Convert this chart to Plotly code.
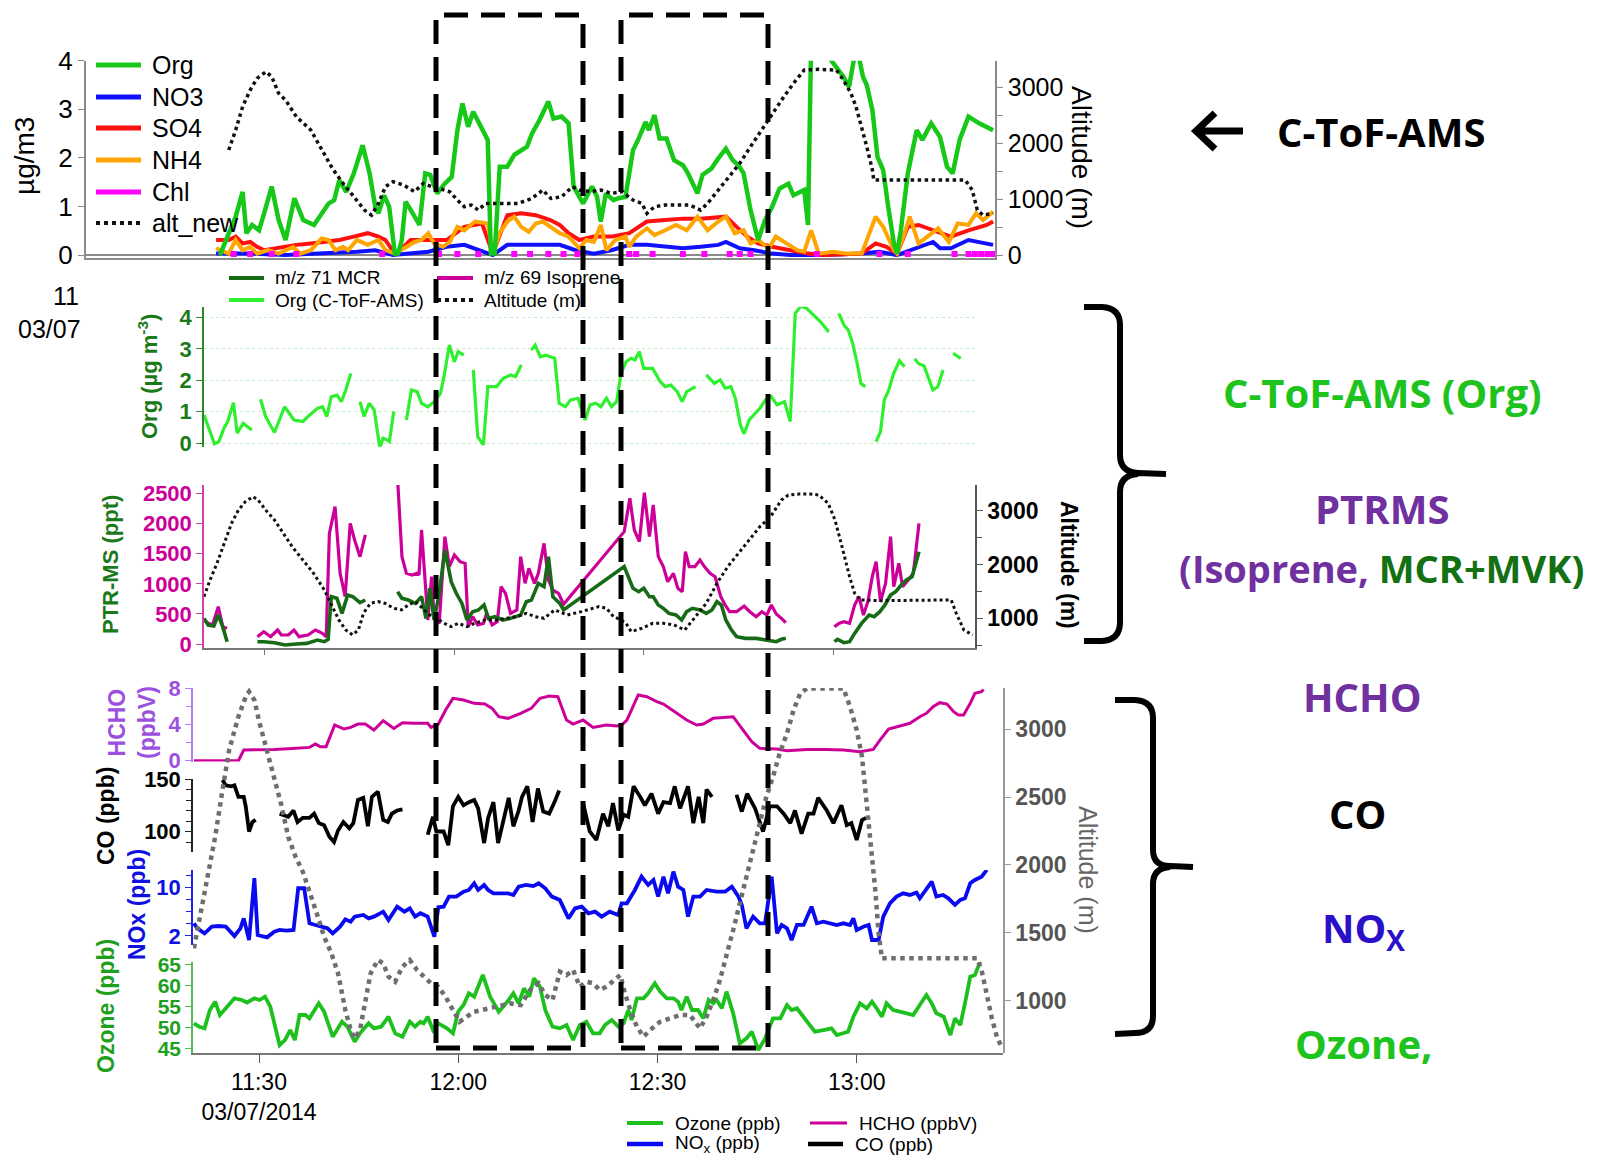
import plotly.graph_objects as go

W, H = 1604, 1155
OFF = 8  # page offset of the rendered figure (body margin)
def fx(p): return (p - OFF) / W
def fy(p): return 1 - (p - OFF) / H
FONT = "Liberation Sans, Arial, sans-serif"

# ---------------- DATA (minutes after 11:00, value) ----------------
# Top panel: C-ToF-AMS (ug/m3) + altitude (m)
ORG_TOP = [(20.8,0.0),(22.2,0.45),(23.3,0.79),(24.4,1.30),(25.0,0.45),(25.9,0.62),(27.0,0.51),(27.8,0.86),(29.0,1.41),(30.1,0.72),(31.2,0.31),(32.6,1.17),(34.0,0.72),(35.7,0.62),(36.9,0.86),(38.0,1.06),(38.9,1.13),(39.7,1.54),(40.8,1.30),(42.0,1.68),(43.4,2.26),(44.5,1.68),(45.4,0.99),(45.9,0.86),(46.8,1.23),(47.6,0.99),(48.5,0.03),(49.0,0.03),(49.6,0.31),(50.2,1.10),(51.0,0.93),(52.4,0.62),(53.3,1.68),(54.1,1.65),(55.2,1.27),(56.4,1.47),(57.5,1.61),(58.4,2.57),(59.2,3.12),(60.1,2.64),(60.9,2.95),(62.0,2.67),(63.2,2.37),(63.7,0.03),(64.3,0.03),(65.1,1.82),(66.3,1.82),(67.4,2.06),(68.5,2.16),(69.4,2.23),(70.2,2.50),(71.4,2.78),(72.8,3.16),(73.6,2.81),(74.9,2.85),(76.0,2.71),(76.8,1.41),(78.3,1.06),(79.7,1.41),(80.5,1.20),(81.1,0.69),(81.9,1.27),(83.1,1.13),(83.9,1.17),(85.0,1.20),(86.2,2.16),(87.0,2.37),(88.2,2.74),(88.7,2.57),(89.6,2.88),(90.4,2.40),(91.5,2.40),(92.7,1.95),(94.1,1.85),(94.9,1.68),(96.4,1.27),(97.2,1.65),(98.6,1.78),(99.7,1.99),(100.9,2.19),(102.0,1.95),(102.9,1.85),(103.7,1.68),(104.8,0.93),(106.0,0.31),(107.1,0.72),(108.2,0.99),(109.4,1.37),(110.8,1.47),(111.6,1.23),(113.3,1.34),(113.9,0.62),(114.4,4.4),(116.0,4.6),(117.6,4.0),(119.5,3.67),(120.4,3.46),(121.2,4.05),(122.0,4.05),(122.6,3.67),(123.2,3.50),(124.1,2.98),(124.9,2.02),(125.8,1.75),(126.6,0.99),(127.5,0.24),(128.0,0.03),(128.6,0.51),(129.7,1.68),(131.1,2.57),(132.0,2.37),(133.4,2.71),(134.8,2.43),(135.9,1.82),(136.8,1.68),(137.9,2.37),(139.3,2.85),(141.0,2.71),(143.2,2.57)]
NO3_TOP = [(20.2,0.03),(25.6,0.03),(31.2,0.0),(36.9,0.03),(42.5,0.07),(45.4,0.10),(48.2,0.0),(53.8,0.07),(56.7,0.17),(59.5,0.21),(64.0,0.0),(66.3,0.21),(70.8,0.21),(74.6,0.21),(77.1,0.10),(80.0,0.03),(82.8,0.10),(85.6,0.21),(88.4,0.21),(91.3,0.17),(94.1,0.14),(96.9,0.17),(99.7,0.21),(100.9,0.27),(103.1,0.14),(105.4,0.10),(108.2,0.03),(111.1,0.0),(116.7,0.0),(122.4,0.03),(125.2,0.07),(128.0,0.0),(130.8,0.14),(133.7,0.27),(134.8,0.14),(136.5,0.14),(139.3,0.31),(143.2,0.21)]
SO4_TOP = [(20.2,0.31),(22.2,0.31),(23.3,0.38),(24.4,0.24),(25.6,0.27),(26.7,0.17),(27.8,0.10),(29.5,0.14),(31.2,0.17),(32.9,0.21),(35.2,0.24),(36.9,0.27),(39.7,0.31),(42.0,0.38),(44.2,0.45),(45.9,0.38),(47.0,0.31),(48.5,0.03),(49.3,0.10),(51.0,0.31),(53.8,0.31),(56.7,0.31),(59.5,0.58),(62.3,0.65),(64.0,0.03),(66.3,0.82),(68.5,0.86),(70.8,0.82),(73.1,0.72),(74.6,0.62),(76.0,0.45),(77.7,0.31),(80.0,0.38),(82.8,0.38),(85.6,0.45),(88.4,0.69),(91.3,0.72),(94.1,0.75),(96.9,0.75),(100.9,0.79),(102.6,0.58),(104.3,0.38),(106.0,0.24),(108.2,0.17),(111.1,0.10),(113.9,0.03),(116.7,0.0),(122.4,0.03),(124.6,0.24),(126.3,0.17),(128.0,0.03),(129.7,0.58),(131.4,0.62),(133.7,0.51),(136.5,0.38),(139.3,0.51),(142.2,0.62),(143.2,0.69)]
NH4_TOP = [(20.2,0.14),(22.2,0.03),(23.3,0.31),(24.4,0.10),(25.6,0.17),(26.7,0.03),(28.4,0.10),(30.1,0.03),(32.4,0.17),(33.5,0.03),(35.2,0.10),(36.9,0.34),(38.0,0.31),(39.1,0.10),(40.3,0.17),(41.1,0.10),(42.5,0.31),(44.2,0.21),(45.9,0.31),(47.0,0.10),(48.5,0.03),(50.4,0.17),(51.6,0.27),(52.7,0.31),(53.8,0.45),(54.7,0.24),(56.1,0.17),(57.2,0.27),(58.4,0.58),(59.5,0.51),(61.2,0.69),(63.2,0.65),(64.0,0.03),(65.1,0.45),(66.3,0.69),(67.4,0.79),(68.5,0.58),(69.7,0.48),(70.8,0.65),(71.9,0.69),(73.1,0.58),(74.6,0.45),(76.0,0.38),(77.7,0.14),(78.8,0.31),(80.0,0.27),(81.1,0.62),(82.0,0.10),(83.4,0.31),(85.0,0.38),(85.6,0.17),(86.7,0.38),(88.4,0.55),(89.6,0.41),(91.3,0.51),(93.0,0.62),(94.7,0.51),(96.4,0.79),(98.0,0.51),(99.7,0.69),(100.9,0.79),(102.3,0.45),(103.7,0.51),(104.8,0.24),(106.0,0.31),(107.7,0.14),(108.8,0.38),(110.5,0.24),(112.2,0.10),(113.3,0.07),(114.4,0.51),(115.6,0.03),(117.8,0.07),(120.1,0.03),(122.4,0.03),(124.6,0.79),(125.8,0.58),(127.5,0.10),(128.0,0.03),(129.2,0.45),(130.0,0.79),(131.4,0.24),(133.1,0.41),(134.5,0.55),(136.2,0.27),(137.6,0.65),(139.3,0.62),(140.5,0.86),(141.6,0.72),(143.2,0.89)]
CHL_TOP = [(23.0,0.02),(25.6,0.02),(29.0,0.02),(32.9,0.02),(46.5,0.02),(55.5,0.02),(58.4,0.02),(61.7,0.02),(67.4,0.02),(69.9,0.02),(72.8,0.02),(75.2,0.02),(77.4,0.02),(85.6,0.02),(86.7,0.02),(89.3,0.02),(94.1,0.02),(97.5,0.02),(101.5,0.02),(103.1,0.02),(104.8,0.02),(115.3,0.02),(125.2,0.02),(129.7,0.02),(137.1,0.02),(139.3,0.02),(140.3,0.02),(141.3,0.02),(142.3,0.02),(143.2,0.02)]
ALT_TOP = [(22.2,1883),(23.3,2241),(24.4,2660),(25.6,2959),(26.7,3168),(28.1,3287),(29.0,3198),(30.1,2899),(31.2,2779),(32.9,2480),(35.2,2241),(36.9,1883),(38.6,1554),(40.3,1285),(42.0,1046),(43.7,807),(44.8,717),(45.9,926),(47.0,1225),(48.2,1315),(49.9,1255),(51.6,1136),(53.0,1285),(54.4,1225),(55.5,1195),(57.2,1136),(58.4,986),(59.5,867),(60.6,897),(61.7,807),(62.9,926),(65.1,926),(68.0,926),(70.2,1016),(71.9,1166),(73.2,1016),(74.9,1046),(76.6,1225),(77.7,1166),(79.4,1136),(81.1,1166),(82.8,1106),(84.5,1136),(86.2,986),(87.6,926),(88.4,747),(89.6,867),(91.3,897),(93.0,897),(95.2,897),(96.9,807),(98.0,926),(99.7,1166),(101.4,1405),(103.1,1644),(104.8,1943),(106.5,2241),(108.2,2540),(109.9,2809),(111.6,3078),(113.3,3317),(115.6,3329),(118.4,3317),(119.5,3138),(120.7,2899),(121.5,2660),(122.4,2301),(123.2,1943),(124.1,1524),(124.3,1345),(125.8,1345),(133.7,1345),(138.8,1345),(139.9,1166),(140.7,807),(141.6,717),(143.2,747)]

# Middle panel: Org (ug m-3), PTR-MS (ppt), altitude (m); None = data gap
ORG_MID = [(20.33,0.90),(21.0,0.53),(22.0,-0.02),(22.7,0.05),(23.5,0.48),(24.1,0.69),(25.0,1.29),(25.6,0.32),(26.55,0.63),(27.2,0.53),(27.9,0.42),None,
 (29.3,1.40),(30.1,0.85),(31.5,0.34),(33.1,1.16),(34.6,0.74),(36.0,0.69),(37.1,0.90),(38.3,1.11),(39.1,1.16),(39.8,0.85),(40.5,1.48),(41.4,1.53),(42.1,1.32),(42.8,1.69),(43.6,2.22),None,
 (45.05,1.32),(45.7,0.85),(46.5,1.27),(47.3,1.06),(48.2,-0.16),(48.7,0.16),(49.3,0.11),(49.7,0.05),(50.4,1.01),None,
 (52.4,0.74),(53.2,1.69),(54.1,1.64),(54.8,1.27),(55.8,1.16),(56.8,1.32),(57.8,1.59),(58.4,2.17),(59.2,3.12),(60.0,2.59),(60.6,2.91),(61.5,2.80),None,
 (63.0,2.33),(63.7,0.21),(64.6,-0.05),(65.3,1.80),(66.7,1.80),(67.7,2.06),(68.9,2.17),(69.7,2.12),(70.6,2.49),None,
 (72.2,2.96),(72.8,3.12),(73.6,2.75),(74.5,2.80),(75.9,2.70),(76.6,1.27),(77.6,1.16),(78.4,1.38),(79.6,1.43),(80.7,0.74),(81.5,1.22),(82.4,1.27),(83.2,1.16),(84.1,1.43),(84.9,1.16),(85.7,1.32),(86.4,2.22),(87.2,2.59),(88.0,2.70),(88.6,2.65),(89.3,2.91),(90.0,2.38),(91.4,2.38),(92.6,1.96),(93.4,1.80),(94.3,1.85),(95.3,1.64),(96.1,1.32),(96.8,1.64),(98.2,1.80),None,
 (99.9,2.17),(101.2,1.90),(102.1,2.01),(102.9,1.75),(103.8,1.80),(104.5,1.43),(105.3,0.58),(105.9,0.30),(106.7,0.74),(107.6,0.95),(108.4,1.11),(109.3,1.38),(110.2,1.48),(111.1,1.22),(112.3,1.32),(113.2,0.69),(114.0,4.13),(114.9,4.36),(115.8,4.29),(116.9,4.07),(118.0,3.86),(119.3,3.54),None,
 (120.9,4.13),(121.7,3.76),(122.4,3.60),(123.1,3.17),(123.8,2.54),(124.4,1.90),(125.1,1.80),None,
 (126.8,0.05),(127.5,0.37),(128.1,1.38),(128.8,1.69),(129.6,2.22),(130.5,2.62),(131.3,2.43),None,
 (132.9,2.68),(133.6,2.52),(134.4,2.46),(135.0,2.12),(135.8,1.69),(136.6,1.80),(137.4,2.33),None,
 (139.0,2.86),(140.2,2.70)]
ISO_MID = [(20.33,399),(21.0,343),(21.7,316),(22.6,620),(23.3,288),(24.0,260),None,
 (28.8,122),(29.8,205),(30.9,122),(32.0,233),(32.6,150),(33.7,150),(34.6,233),(35.4,122),(36.8,150),(38.0,233),(39.1,177),(39.7,122),(40.2,1838),(41.1,2281),(41.9,1174),(42.7,786),(43.5,2004),(44.2,1728),(45.05,1451),(45.9,1811),None,
 (51.0,2750),(51.7,1451),(52.4,1174),(53.3,1146),(54.1,1174),(54.4,1146),(54.8,1894),(55.4,1063),(55.8,399),(56.4,1118),(56.8,426),(57.6,343),(58.5,1783),(59.2,1285),(60.0,1478),(60.9,1368),(61.7,1340),(62.2,288),(62.9,454),(63.7,316),(64.6,343),(65.1,509),(66.0,316),(66.8,371),(67.4,952),(68.1,842),(68.9,509),(69.9,565),(70.5,1451),(71.2,1008),(71.8,1257),(72.7,1008),(73.3,1174),(74.2,1672),(74.9,1063),(75.6,897),(76.5,842),(77.3,660),(86.9,1866),(87.8,2420),(88.5,1894),(89.3,1700),(90.1,2514),(90.9,1783),(91.5,2309),(92.3,1451),(93.1,1285),(93.8,1035),(94.7,1174),(95.4,925),(96.1,869),(96.6,1534),(97.2,1285),(98.1,1285),(98.9,1396),(99.6,1285),(100.5,1174),(101.3,1118),(102.2,786),(102.9,648),(103.6,537),(104.7,537),(105.9,631),(106.8,537),(107.8,454),(108.7,537),(109.5,482),(110.2,648),(111.0,498),(111.8,426),(112.5,354),None,
 (120.2,288),(120.9,343),(121.7,371),(122.6,343),(123.4,648),(124.1,786),(124.8,482),(125.5,703),(126.2,1118),(126.8,1368),(127.5,703),(128.3,1008),(129.1,1783),(129.6,952),(130.4,1340),(131.0,952),(131.9,1063),(132.7,1174),(133.6,2004)]
MCR_MID = [(20.33,426),(21.0,316),(21.9,299),(22.6,482),(23.3,288),(24.0,39),None,
 (28.8,39),(29.8,39),(31.5,22),(33.2,-17),(34.9,0),(36.6,11),(38.3,66),(39.4,39),(40.0,78),(40.5,786),(41.4,759),(42.2,509),(43.1,814),(43.9,786),(45.05,687),(45.9,731),None,
 (51.0,869),(51.7,759),(52.7,731),(53.8,675),(54.8,786),(55.5,426),(56.1,925),(56.8,399),(57.6,842),(58.5,1561),(59.5,1035),(60.3,842),(61.2,675),(62.0,399),(62.9,537),(63.8,565),(64.7,648),(65.4,426),(66.4,454),(67.7,399),(68.9,426),(70.5,482),(71.4,703),(72.2,731),(73.3,1008),(74.2,952),(74.9,1451),(75.6,786),(76.7,675),(77.3,565),(86.9,1285),(87.5,1146),(88.3,925),(89.2,869),(90.0,925),(90.9,786),(91.5,786),(92.3,648),(93.1,593),(94.0,509),(95.1,482),(96.0,399),(96.8,537),(97.7,593),(98.9,565),(99.9,509),(100.8,565),(101.6,703),(102.3,648),(103.0,399),(103.9,232),(104.7,122),(106.1,94),(107.8,94),(109.5,66),(111.0,39),(111.8,78),(112.5,94),None,
 (120.2,39),(120.7,78),(121.7,22),(122.6,39),(123.4,177),(124.5,343),(125.7,482),(126.5,454),(127.4,537),(128.2,648),(129.1,814),(129.9,869),(130.8,980),(131.6,1063),(132.5,1118),(133.6,1534)]
ALT_MID = [(20.33,1403),(21.3,1712),(22.4,2022),(23.5,2394),(24.7,2766),(25.8,3014),(26.9,3169),(28.1,3262),(28.9,3200),(30.1,3014),(31.5,2828),(32.9,2580),(34.3,2332),(36.0,2084),(37.7,1836),(39.4,1527),(40.5,1248),(41.7,969),(42.8,783),(43.9,690),(44.8,783),(45.6,1093),(46.7,1279),(47.9,1310),(49.0,1279),(50.4,1186),(51.6,1155),(52.7,1248),(53.8,1310),(54.9,1186),(56.1,1062),(57.2,1000),(58.4,907),(59.5,845),(60.6,907),(62.0,845),(63.2,907),(64.9,969),(66.6,969),(68.3,1000),(69.9,1031),(71.4,1093),(72.8,1031),(74.2,1000),(75.9,1155),(77.9,1062),(80.1,1124),(82.9,1217),(84.1,1186),(85.2,1031),(86.4,969),(87.2,907),(88.0,752),(89.7,814),(91.4,907),(93.1,907),(94.8,876),(96.5,783),(98.2,1031),(99.9,1279),(101.6,1651),(103.3,1960),(105.0,2208),(106.7,2456),(108.4,2704),(110.1,2890),(111.8,3200),(112.9,3293),(114.6,3311),(116.3,3311),(117.7,3293),(119.2,3138),(120.3,2828),(121.4,2332),(122.6,1775),(123.4,1465),(124.3,1341),(127.6,1328),(133.3,1328),(138.7,1341),(139.5,1093),(140.7,783),(142.1,690)]

# Bottom panel: HCHO (ppbV), CO (ppb), NOx (ppb), Ozone (ppb), altitude (m)
HCHO = [(20.2,0.0),(26.9,0.0),(27.7,1.18),(30.1,1.18),(32.3,1.25),(35.0,1.36),(37.6,1.47),(38.5,1.84),(39.2,1.55),(40.1,1.55),(41.4,3.94),(42.8,3.50),(43.8,3.68),(44.9,4.05),(46.0,4.05),(47.3,3.39),(48.7,4.42),(50.3,3.57),(51.6,4.20),(53.2,4.13),(55.4,4.13),(55.9,3.68),(57.0,4.05),(58.1,5.60),(59.2,6.89),(60.8,6.70),(62.4,6.34),(64.0,6.26),(65.1,5.78),(66.1,4.86),(67.5,4.68),(69.4,5.23),(71.0,5.78),(72.3,6.89),(73.7,7.15),(75.0,7.07),(76.3,4.49),(77.3,4.05),(78.8,4.49),(80.3,3.68),(82.3,3.94),(83.9,3.83),(84.6,3.94),(85.4,4.49),(87.1,7.26),(88.4,7.07),(89.9,6.52),(90.9,6.26),(92.9,5.23),(94.4,4.49),(95.9,3.94),(96.9,4.05),(98.4,4.68),(99.9,4.79),(101.4,4.86),(102.7,3.57),(104.2,2.10),(105.4,1.36),(108.0,1.29),(109.5,1.10),(111.0,1.18),(112.5,1.25),(115.5,1.25),(118.0,1.18),(120.5,1.00),(122.5,1.25),(123.5,2.28),(124.8,3.50),(126.5,3.83),(128.0,4.13),(129.5,4.86),(130.5,5.23),(131.5,5.97),(132.5,6.41),(133.6,6.26),(134.6,5.41),(135.3,5.05),(136.1,5.05),(137.1,6.34),(137.8,7.44),(138.8,7.62),(139.1,7.88)]
CO = [(24.5,149),(25.0,144),(25.8,143),(26.3,144),(26.9,133),(27.7,133),(28.0,124),(28.5,100),(29.0,109),(29.5,111),None,
 (33.1,117),(34.4,114),(35.2,120),(35.8,109),(36.6,113),(37.6,113),(38.3,117),(39.0,108),(39.8,106),(40.6,95),(41.3,90),(41.9,101),(42.7,109),(43.6,103),(44.2,108),(44.9,130),(45.7,132),(46.4,105),(47.0,133),(47.9,138),(48.7,111),(49.4,109),(50.0,117),(50.8,120),(51.6,121),None,
 (55.4,97),(56.2,114),(56.7,100),(57.8,100),(58.5,87),(59.2,124),(60.0,133),(60.8,125),(61.6,128),(62.4,130),(63.0,122),(63.9,89),(64.5,113),(65.3,128),(66.0,89),(67.0,117),(67.6,132),(68.3,105),(69.1,120),(69.6,133),(70.4,143),(71.2,109),(72.0,141),(72.8,119),(73.7,117),(74.5,128),(75.2,139),None,
 (78.8,127),(79.8,100),(80.8,92),(81.8,117),(82.6,105),(83.3,127),(84.1,101),(84.9,116),(85.6,114),(86.4,143),(87.4,133),(88.1,125),(89.1,136),(90.1,117),(90.9,128),(91.9,127),(92.6,143),(93.4,122),(94.6,143),(95.4,108),(96.2,133),(96.9,108),(97.4,140),(98.2,133),None,
 (101.9,135),(102.7,119),(103.5,136),(104.7,122),(105.9,100),(106.9,124),(108.0,124),(109.0,117),(110.0,108),(110.7,120),(111.7,98),(112.7,117),(113.5,117),(114.2,132),(115.5,120),(116.5,108),(117.7,125),(118.5,106),(119.2,108),(120.0,92),(120.8,111),(121.4,113)]
NOX = [(20.2,4.08),(20.7,3.26),(21.8,2.44),(22.9,3.53),(23.9,3.64),(25.0,3.53),(26.3,2.0),(27.2,3.26),(27.7,4.9),(28.5,1.34),(29.3,11.5),(29.8,2.16),(31.2,1.78),(32.3,2.71),(33.1,2.99),(34.1,2.88),(35.2,2.99),(35.9,9.84),(36.8,9.84),(37.6,4.08),(38.5,3.81),(39.5,3.53),(40.3,3.26),(41.1,2.44),(42.2,3.53),(43.0,4.74),(43.8,4.36),(44.4,5.18),(45.7,5.45),(46.5,4.9),(47.3,5.18),(48.7,6.0),(49.5,4.63),(50.8,6.82),(51.9,6.0),(52.7,6.55),(53.5,5.18),(54.3,5.73),(55.4,5.18),(56.4,1.89),(57.0,6.71),(57.8,6.82),(58.6,8.47),(59.7,8.47),(60.8,9.29),(61.6,9.56),(62.4,10.66),(63.0,9.56),(63.9,10.38),(64.5,9.56),(65.3,9.01),(66.4,9.01),(67.5,9.01),(68.3,8.74),(69.1,10.1),(70.2,10.38),(71.3,10.2),(72.1,10.66),(73.1,9.84),(74.1,8.47),(75.3,7.9),(76.6,4.9),(77.6,6.55),(78.6,6.82),(79.6,5.73),(80.6,6.0),(81.6,5.18),(82.8,6.0),(84.1,5.45),(84.6,7.37),(85.4,7.37),(86.6,9.56),(87.6,11.75),(88.6,10.38),(89.4,11.2),(90.1,8.47),(90.9,11.75),(91.6,9.01),(92.4,12.57),(93.1,10.1),(93.9,9.56),(94.6,5.18),(95.4,8.47),(96.4,8.47),(97.4,9.56),(98.9,9.29),(100.2,9.29),(101.2,10.1),(102.2,8.47),(102.7,7.1),(103.4,3.26),(104.4,5.18),(105.4,4.08),(106.2,4.08),(107.2,11.75),(108.0,2.44),(108.7,3.81),(109.5,3.26),(110.2,1.34),(111.0,3.81),(112.0,3.81),(113.2,6.82),(114.0,4.08),(115.0,4.36),(116.0,4.08),(117.0,3.81),(118.0,4.08),(119.0,3.81),(119.5,4.9),(120.0,2.99),(121.0,3.53),(121.8,3.81),(122.3,1.34),(123.3,1.34),(124.0,5.18),(125.0,7.37),(126.0,8.47),(127.0,9.01),(128.0,8.74),(129.0,9.12),(129.5,8.19),(130.5,9.84),(131.3,10.93),(132.0,8.47),(133.0,8.74),(133.8,8.19),(134.8,7.1),(135.6,7.92),(136.3,8.19),(137.1,10.66),(137.8,11.2),(138.8,11.75),(139.6,12.85)]
OZONE = [(20.2,51.0),(21.0,50.2),(21.8,49.8),(22.6,54.2),(23.4,56.2),(24.1,53.0),(25.0,54.6),(26.3,57.0),(27.4,56.6),(28.2,56.0),(29.3,57.0),(30.1,56.6),(30.9,57.4),(31.7,55.0),(33.1,45.8),(33.9,47.0),(34.7,49.4),(35.4,47.0),(36.1,53.0),(37.0,53.0),(37.6,52.2),(39.0,55.8),(39.8,53.8),(41.1,47.8),(42.5,51.4),(43.3,50.2),(44.4,46.6),(45.2,48.6),(46.5,51.0),(47.3,49.8),(48.4,50.2),(49.5,52.6),(50.5,48.6),(51.6,47.8),(52.7,51.4),(53.5,50.2),(54.3,51.4),(54.8,51.0),(55.4,52.6),(56.2,49.4),(57.0,51.0),(58.3,49.8),(59.2,48.6),(60.0,53.8),(60.8,55.4),(61.6,58.2),(62.4,57.4),(63.7,62.6),(64.8,57.4),(66.1,53.8),(67.2,55.8),(68.3,58.2),(69.1,55.8),(69.9,59.4),(70.7,57.4),(71.4,61.8),(72.3,59.8),(73.1,54.2),(74.2,50.2),(75.3,49.8),(76.3,50.6),(77.3,47.0),(78.3,50.6),(79.3,51.4),(80.3,48.6),(81.3,48.6),(82.1,50.6),(83.1,51.8),(84.1,50.2),(84.9,51.0),(85.6,54.2),(86.1,51.8),(86.9,57.0),(87.9,57.0),(88.6,58.2),(89.6,60.6),(90.4,58.6),(91.4,57.0),(92.4,57.0),(93.1,56.2),(93.6,54.2),(94.4,57.4),(95.2,54.2),(96.1,54.2),(96.9,52.2),(97.7,56.6),(98.4,55.8),(98.9,56.6),(99.7,54.6),(100.4,58.6),(101.4,53.4),(102.4,46.2),(103.4,47.4),(104.2,49.0),(105.2,44.6),(106.2,47.4),(107.4,52.2),(108.5,52.2),(109.5,55.4),(110.2,54.2),(111.0,54.6),(112.2,52.2),(113.7,49.0),(115.0,49.4),(116.2,49.8),(117.0,48.2),(118.0,48.6),(118.7,49.0),(119.5,52.6),(120.5,55.8),(121.5,54.6),(122.3,56.2),(123.0,54.6),(123.8,52.6),(124.5,55.8),(125.5,54.2),(126.5,53.8),(127.5,53.4),(128.5,53.0),(129.5,55.4),(130.5,57.8),(131.3,55.8),(132.0,53.4),(133.1,52.6),(134.1,48.2),(134.8,52.2),(135.6,50.6),(136.3,55.8),(137.1,62.2),(137.8,62.6),(138.6,65.8)]
ALT_BOT = [(20.2,1386),(21.2,1643),(22.3,1914),(23.4,2208),(24.5,2552),(25.5,2847),(26.9,3093),(28.0,3240),(28.5,3277),(29.3,3215),(30.1,3043),(31.2,2847),(32.3,2650),(33.3,2454),(34.4,2208),(35.5,2061),(36.6,1950),(37.6,1791),(38.7,1643),(39.8,1472),(40.9,1349),(41.9,1201),(43.0,931),(43.8,784),(44.4,722),(45.2,784),(46.0,980),(46.8,1201),(47.9,1300),(48.7,1275),(49.5,1177),(50.5,1140),(51.6,1251),(52.7,1300),(53.8,1226),(54.8,1177),(55.9,1128),(57.0,1103),(58.1,1029),(59.2,931),(60.2,845),(61.3,882),(62.4,919),(63.5,931),(64.5,943),(65.6,956),(66.7,968),(67.8,980),(69.4,968),(71.0,1091),(72.1,1128),(73.1,1042),(74.2,1005),(75.3,1214),(76.3,1189),(77.3,1226),(78.3,1103),(79.3,1140),(80.3,1128),(81.3,1079),(82.3,1103),(83.3,1140),(84.4,1189),(85.1,1054),(85.9,931),(86.9,808),(87.9,735),(88.9,784),(90.4,845),(91.9,870),(93.4,894),(94.9,894),(96.4,796),(97.4,882),(98.4,1005),(99.4,1152),(100.4,1324),(101.4,1521),(102.4,1717),(103.4,1914),(104.4,2135),(105.4,2307),(106.4,2503),(107.4,2650),(108.4,2822),(109.5,2970),(110.5,3142),(111.5,3264),(112.5,3301),(114.5,3301),(116.5,3301),(118.0,3301),(119.0,3166),(120.0,2994),(120.8,2798),(121.5,2454),(122.3,2110),(122.8,1815),(123.3,1496),(123.8,1312),(124.5,1312),(130.5,1312),(138.1,1312),(138.8,1226),(139.6,1029),(140.3,882),(141.1,735),(141.8,661)]

TIME_TICKS = [30, 60, 90, 120]
TIME_LABELS = ["11:30<br>03/07/2014", "12:00", "12:30", "13:00"]

# ---------------- FIGURE ----------------
fig = go.Figure()

def split(series):
    xs, ys = [], []
    for p in series:
        if p is None:
            xs.append(None); ys.append(None)
        else:
            xs.append(p[0]); ys.append(p[1])
    return xs, ys

def add_line(series, xa, ya, color, width, dash="solid"):
    x, y = split(series)
    fig.add_trace(go.Scatter(x=x, y=y, xaxis=xa, yaxis=ya, mode="lines",
                             line=dict(color=color, width=width, dash=dash),
                             connectgaps=False, showlegend=False, hoverinfo="skip"))

# top panel
add_line(NO3_TOP, "x", "y", "#1010ff", 4)
add_line(SO4_TOP, "x", "y", "#ff1010", 4)
add_line(NH4_TOP, "x", "y", "#ffa500", 4)
cx, cy = split(CHL_TOP)
fig.add_trace(go.Scatter(x=cx, y=cy, xaxis="x", yaxis="y", mode="markers",
                         marker=dict(symbol="square", size=6, color="#ff00ff"),
                         showlegend=False, hoverinfo="skip"))
add_line(ORG_TOP, "x", "y", "#18c818", 4.5)
add_line(ALT_TOP, "x", "y2", "#111111", 3.5, "dot")

# middle panel
add_line(ORG_MID, "x2", "y3", "#2ef02e", 3.2)
add_line(ISO_MID, "x2", "y4", "#cc0099", 3.2)
add_line(MCR_MID, "x2", "y4", "#176b17", 3.6)
add_line(ALT_MID, "x2", "y5", "#111111", 3, "dot")

# bottom panel
add_line(HCHO, "x3", "y6", "#cc0099", 3)
add_line(CO, "x3", "y7", "#000000", 3.8)
add_line(NOX, "x3", "y8", "#0a0af0", 3.8)
add_line(OZONE, "x3", "y9", "#1ec01e", 3.8)
add_line(ALT_BOT, "x3", "y10", "#6e6e6e", 4.5, "dot")

def yax(top, bottom, rng, **kw):
    d = dict(domain=[fy(bottom), fy(top)], range=rng, showgrid=False, zeroline=False,
             showline=True, ticks="outside", ticklen=6, linewidth=1.5, automargin=False)
    d.update(kw)
    return d

tf = lambda size, color, bold=False: dict(family=FONT, size=size, color=color,
                                           weight="bold" if bold else "normal")

fig.update_layout(
    width=W, height=H, margin=dict(l=0, r=0, t=0, b=0, pad=0, autoexpand=False),
    paper_bgcolor="white", plot_bgcolor="rgba(0,0,0,0)",
    font=dict(family=FONT, color="black"),
    # top
    xaxis=dict(domain=[fx(85.7), fx(995)], range=[-0.44, 143.5], anchor="y",
               showline=True, linecolor="#8a8a8a", linewidth=1.5, showticklabels=False,
               ticks="", showgrid=False, zeroline=False, automargin=False),
    yaxis=yax(60.7, 257.5, [-0.05, 4.0], anchor="x", tickvals=[0, 1, 2, 3, 4],
              linecolor="#8a8a8a", tickcolor="#8a8a8a", tickfont=tf(26, "black"),
              zeroline=True, zerolinecolor="#8a8a8a", zerolinewidth=1.5),
    yaxis2=dict(overlaying="y", side="right", anchor="x", range=[-43, 3484],
                showgrid=False, zeroline=False, showline=True, linecolor="#8a8a8a",
                linewidth=1.5, ticks="outside", ticklen=6, tickcolor="#8a8a8a",
                tickvals=[0, 1000, 2000, 3000], tickfont=tf(25, "black"), automargin=False,
                minor=dict(dtick=500, ticks="outside", ticklen=6, tickcolor="#8a8a8a")),
    # middle
    xaxis2=dict(domain=[fx(204), fx(975)], range=[20.34, 142.47], anchor="y4",
                showline=True, linecolor="#777777", linewidth=1.5, ticks="outside",
                ticklen=5, tickcolor="#777777", tickvals=TIME_TICKS, automargin=False,
                showticklabels=False, showgrid=False, zeroline=False),
    yaxis3=yax(306.7, 446.7, [-0.11, 4.34], anchor="x2", tickvals=[0, 1, 2, 3, 4],
               linecolor="#2a8a2a", tickcolor="#2a8a2a", tickfont=tf(22, "#1a7a1a", True),
               showgrid=True, gridcolor="#c4f0c4", griddash="dot", gridwidth=1),
    yaxis4=yax(485, 648.3, [-71, 2641], anchor="x2",
               tickvals=[0, 500, 1000, 1500, 2000, 2500], linecolor="#cc44aa",
               tickcolor="#cc44aa", tickfont=tf(22, "#cc0099", True)),
    yaxis5=dict(overlaying="y4", side="right", anchor="x2", range=[442, 3478],
                showgrid=False, zeroline=False, showline=True, linecolor="#555555",
                linewidth=1.5, ticks="outside", ticklen=6, tickcolor="#555555",
                tickvals=[1000, 2000, 3000], tickfont=tf(23, "black", True), automargin=False,
                minor=dict(dtick=500, ticks="outside", ticklen=5, tickcolor="#555555")),
    # bottom
    xaxis3=dict(domain=[fx(193), fx(1003)], range=[20.06, 142.03], anchor="y9",
                showline=True, linecolor="#777777", linewidth=1.5, ticks="outside",
                ticklen=8, tickcolor="#555555", tickvals=TIME_TICKS, ticktext=TIME_LABELS,
                tickfont=tf(23, "black"), showgrid=False, zeroline=False, automargin=False),
    yaxis6=yax(688.3, 761.5, [-0.09, 8.0], anchor="x3", tickvals=[0, 4, 8],
               linecolor="#b07ff0", tickcolor="#b07ff0", tickfont=tf(22, "#9b50e0", True),
               minor=dict(dtick=2, ticks="outside", ticklen=5, tickcolor="#b07ff0")),
    yaxis7=yax(779, 852, [80.5, 150], anchor="x3", tickvals=[100, 150],
               linecolor="#222222", tickcolor="#222222", tickfont=tf(22, "black", True),
               minor=dict(dtick=10, ticks="outside", ticklen=5, tickcolor="#222222")),
    yaxis8=yax(870, 945, [0.52, 12.84], anchor="x3", tickvals=[2, 10],
               linecolor="#2020ee", tickcolor="#2020ee", tickfont=tf(22, "#1010e0", True),
               minor=dict(dtick=2, tick0=0, ticks="outside", ticklen=5, tickcolor="#2020ee")),
    yaxis9=yax(962, 1053, [43.9, 65.7], anchor="x3", tickvals=[45, 50, 55, 60, 65],
               linecolor="#55bb55", tickcolor="#55bb55", tickfont=tf(21, "#1ea01e", True)),
    yaxis10=yax(688, 1053, [614.6, 3304], anchor="x3", side="right",
                tickvals=[1000, 1500, 2000, 2500, 3000], linecolor="#999999",
                tickcolor="#999999", tickfont=tf(23, "#555555", True)),
)

# ---------------- ANNOTATIONS ----------------
ann = []
def text(x, y, s, size, color="black", angle=0, xanchor="center", bold=False, family=FONT):
    ann.append(dict(x=fx(x), y=fy(y), xref="paper", yref="paper", text=s, showarrow=False,
                    textangle=angle, xanchor=xanchor, yanchor="middle",
                    font=dict(family=family, size=size, color=color,
                              weight="bold" if bold else "normal")))

# axis titles
text(25, 156, "µg/m3", 28, angle=-90)
text(1082, 157, "Altitude (m)", 28, angle=90)
text(66, 296, "11", 25)
text(49, 329, "03/07", 25)
text(148, 377, "Org (µg m<sup>-3</sup>)", 22, "#1a7a1a", -90, bold=True)
text(110, 564, "PTR-MS (ppt)", 22, "#1a7a1a", -90, bold=True)
text(1069, 565, "Altitude (m)", 23, "black", 90, bold=True)
text(132, 723, "HCHO<br>(ppbV)", 23, "#9b50e0", -90, bold=True)
text(106, 816, "CO (ppb)", 23, "black", -90, bold=True)
text(137, 905, "NOx (ppb)", 23, "#1010e0", -90, bold=True)
text(106, 1006, "Ozone (ppb)", 23, "#1ea01e", -90, bold=True)
text(1088, 870, "Altitude (m)", 25, "#666666", 90)

# right-side labels
OS = "Open Sans, Liberation Sans, sans-serif"
text(1381, 131, "<b>C-ToF-AMS</b>", 40, "black", family=OS)
text(1382, 393, "<b>C-ToF-AMS (Org)</b>", 40, "#1ec31e", family=OS)
text(1382, 508, "<b>PTRMS</b>", 40, "#7030a0", family=OS)
text(1381, 568, "<b><span style='color:#7030a0'>(Isoprene, </span>"
               "<span style='color:#137013'>MCR+MVK)</span></b>", 38, "#7030a0", family=OS)
text(1362, 696, "<b>HCHO</b>", 40, "#7030a0", family=OS)
text(1357, 813, "<b>CO</b>", 40, "black", family=OS)
text(1363, 929, "<b>NO<sub>X</sub></b>", 40, "#2a10c8", family=OS)
text(1363, 1043, "<b>Ozone,</b>", 40, "#1ec31e", family=OS)

# manual legends
shapes = []
def seg(x0, y0, x1, y1, color, width, dash="solid"):
    shapes.append(dict(type="line", xref="paper", yref="paper", x0=fx(x0), y0=fy(y0),
                       x1=fx(x1), y1=fy(y1), line=dict(color=color, width=width, dash=dash)))

top_leg = [("Org", "#18c818", "solid"), ("NO3", "#1010ff", "solid"), ("SO4", "#ff1010", "solid"),
           ("NH4", "#ffa500", "solid"), ("Chl", "#ff00ff", "solid"), ("alt_new", "#111111", "dot")]
rows = [65, 97, 128, 160, 192, 223]
for (name, col, dsh), yy in zip(top_leg, rows):
    seg(96, yy, 141, yy, col, 5 if dsh == "solid" else 4, dsh)
    text(150, yy, name, 25, xanchor="left")

mid_leg = [(229, 264, 273, 278, "m/z 71 MCR", "#176b17", "solid"),
           (437, 473, 482, 278, "m/z 69 Isoprene", "#cc0099", "solid"),
           (229, 264, 273, 300, "Org (C-ToF-AMS)", "#2ef02e", "solid"),
           (437, 473, 482, 300, "Altitude (m)", "#111111", "dot")]
for x0, x1, xt, yy, name, col, dsh in mid_leg:
    seg(x0, yy, x1, yy, col, 4, dsh)
    text(xt, yy, name, 19, xanchor="left")

bot_leg = [(627, 663, 673, 1123, "Ozone (ppb)", "#1ec01e", 4),
           (810, 847, 857, 1123, "HCHO (ppbV)", "#cc0099", 3),
           (627, 663, 673, 1144, "NO<sub>x</sub> (ppb)", "#0a0af0", 4.5),
           (808, 843, 853, 1144, "CO (ppb)", "#000000", 4.5)]
for x0, x1, xt, yy, name, col, wd in bot_leg:
    seg(x0, yy, x1, yy, col, wd)
    text(xt, yy, name, 19, xanchor="left")

# dashed boxes
for x0, x1 in [(436, 583), (621, 768)]:
    shapes.append(dict(type="rect", xref="paper", yref="paper", x0=fx(x0), x1=fx(x1),
                       y0=fy(1048), y1=fy(15), line=dict(color="black", width=5, dash="24px,13px")))

def P(x, y):
    return f"{fx(x):.5f},{fy(y):.5f}"

# braces
b1 = (f"M {P(1084,307)} L {P(1102,307)} Q {P(1120,308)} {P(1120,325)} L {P(1120,455)} "
      f"Q {P(1120,472)} {P(1138,473)} L {P(1166,474)} M {P(1138,474)} Q {P(1120,475)} {P(1120,492)} "
      f"L {P(1120,622)} Q {P(1120,640)} {P(1102,641)} L {P(1084,641)}")
b2 = (f"M {P(1115,700)} L {P(1135,700)} Q {P(1153,701)} {P(1153,718)} L {P(1153,850)} "
      f"Q {P(1153,866)} {P(1170,866)} L {P(1193,867)} M {P(1170,867)} Q {P(1153,868)} {P(1153,884)} "
      f"L {P(1153,1016)} Q {P(1153,1033)} {P(1135,1033)} L {P(1115,1034)}")
for b in (b1, b2):
    shapes.append(dict(type="path", xref="paper", yref="paper", path=b,
                       line=dict(color="black", width=6)))
# arrow
shapes.append(dict(type="path", xref="paper", yref="paper",
                   path=f"M {P(1243,131)} L {P(1198,131)} M {P(1215,113)} L {P(1196,131)} L {P(1215,149)}",
                   line=dict(color="black", width=7)))

fig.update_layout(annotations=ann, shapes=shapes)
fig.write_html("out.html")
